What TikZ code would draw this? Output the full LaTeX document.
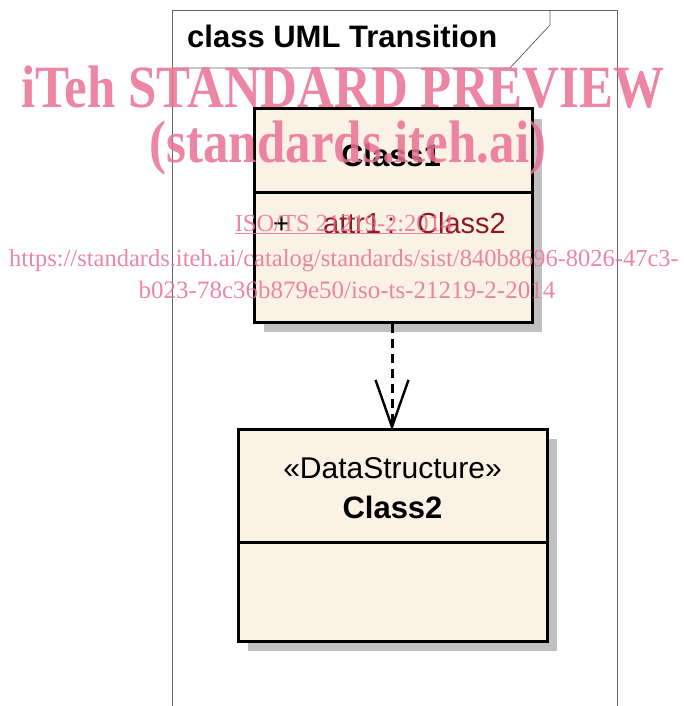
\documentclass[tikz,border=0pt]{standalone}
\usepackage{fontspec}
\setmainfont{Liberation Serif}
\newfontfamily\umlfont{Liberation Sans}
\usepackage{xcolor}
\usepackage{graphicx}
\usetikzlibrary{arrows.meta}
\definecolor{umlfill}{RGB}{251,242,230}
\definecolor{umlshade}{RGB}{192,192,192}
\definecolor{umlframe}{RGB}{100,100,100}
\definecolor{wmpink}{RGB}{234,112,148}
\definecolor{attrred}{RGB}{140,25,30}
\tikzset{
  umlbox/.style={draw=black, fill=umlfill, line width=3pt, inner sep=0pt},
  umlshadow/.style={fill=umlshade, draw=none},
  umlsplit/.style={line width=3pt, draw=black},
  umlframeline/.style={line width=0.8pt, draw=umlframe},
  umldep/.style={line width=3pt, draw=black, dash pattern=on 9pt off 6pt,
    -{Straight Barb[length=47pt, width=33pt, line width=2.4pt]}},
  umlbold/.style={font=\umlfont\fontsize{31}{34}\selectfont\bfseries, inner sep=0pt},
  umlplain/.style={font=\umlfont\fontsize{30}{34}\selectfont, inner sep=0pt},
  wmark/.style={text=wmpink, opacity=0.85, inner sep=0pt},
}

\begin{document}
\begin{tikzpicture}[x=1pt, y=-1pt]
\useasboundingbox (0,0) rectangle (683,706);
% frame with its tab
\draw[umlframeline] (172,706) -- (172,10) -- (617,10) -- (617,706);
\draw[umlframeline] (172,68) -- (510,68) -- (550,25) -- (550,10);
\node[umlbold, anchor=base west] (title) at (187,48) {class UML Transition};
% shadows
\fill[umlshadow] (264,119) rectangle (542,332);
\fill[umlshadow] (248,439) rectangle (557,651);
% class boxes
\node[umlbox, minimum width=278pt, minimum height=213pt] (cls1) at (393,215.5) {};
\node[umlbox, minimum width=309pt, minimum height=212pt] (cls2) at (392.5,535) {};
\draw[umlsplit] (cls1.west |- 0,192) -- (cls1.east |- 0,192);
\draw[umlsplit] (cls2.west |- 0,542) -- (cls2.east |- 0,542);
\node[umlbold, anchor=base] (cls1name) at (391,166) {Class1};
\node[umlplain, font=\umlfont\fontsize{29}{34}\selectfont, anchor=base west] (cls1attr) at (273,233)
  {+\hspace{33pt}\textcolor{attrred}{attr1\hspace{6pt}:\hspace{22pt}Class2}};
\node[umlplain, anchor=base] (cls2stereo) at (392.5,478) {«DataStructure»};
\node[umlbold, anchor=base] (cls2name) at (392.5,518) {Class2};
% dependency
\draw[umldep] (cls1.south -| 392,0) -- ([yshift=-3pt]cls2.north -| 392,0);
% watermark
\node[wmark, font=\fontsize{60}{64}\selectfont\bfseries, anchor=base] (wm1) at (343,108) {\scalebox{0.85}[1]{iTeh STANDARD PREVIEW}};
\node[wmark, font=\fontsize{60}{64}\selectfont\bfseries, anchor=base] (wm2) at (348,162) {\scalebox{0.85}[1]{(standards.iteh.ai)}};
\node[wmark, font=\fontsize{24.5}{28}\selectfont, anchor=base] (wm3) at (344,231) {\underline{ISO/TS 21219-2:2014}};
\node[wmark, font=\fontsize{24.5}{28}\selectfont, anchor=base] (wm4) at (344,266) {https://standards.iteh.ai/catalog/standards/sist/840b8696-8026-47c3-};
\node[wmark, font=\fontsize{25}{28}\selectfont, anchor=base] (wm5) at (347,298) {b023-78c36b879e50/iso-ts-21219-2-2014};
\end{tikzpicture}
\end{document}
